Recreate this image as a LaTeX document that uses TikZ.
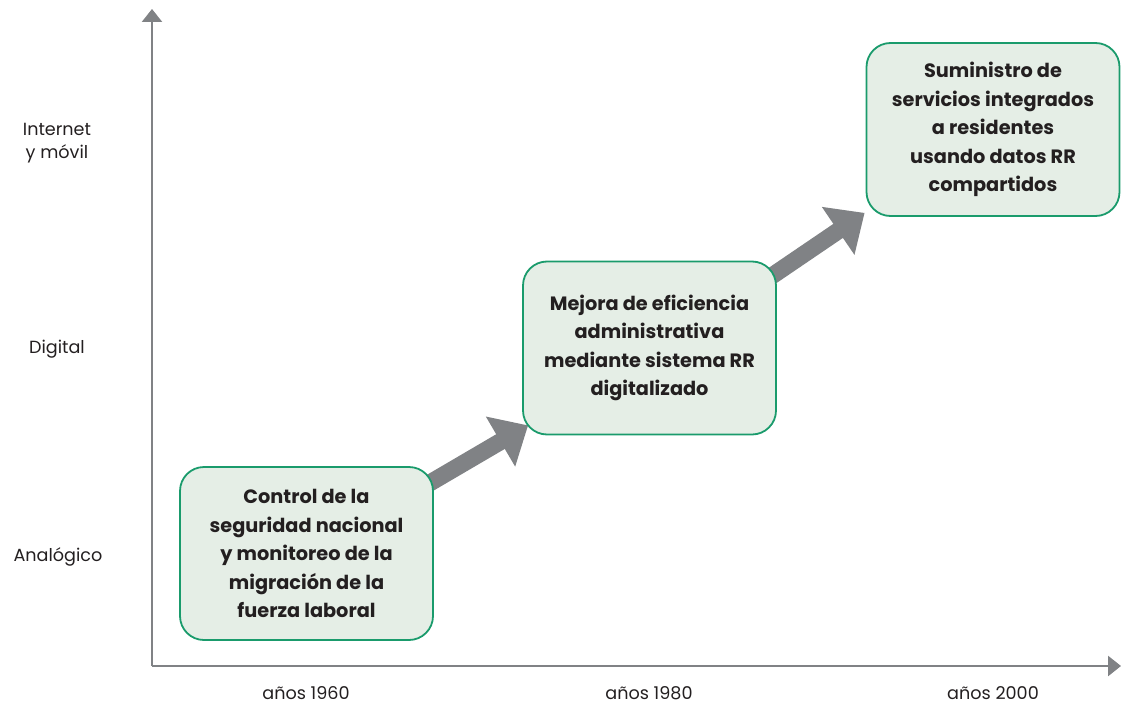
\documentclass[tikz,border=0pt]{standalone}
\usepackage{fontspec}
\setmainfont{Poppins}
\usetikzlibrary{arrows.meta}
\pgfdeclarelayer{bg}
\pgfsetlayers{bg,main}
\definecolor{axisgray}{HTML}{808285}
\definecolor{boxfill}{HTML}{E5EEE6}
\definecolor{boxline}{HTML}{1A9B6C}
\definecolor{txt}{HTML}{231F20}
\tikzset{
  axisline/.style={draw=axisgray, line width=2.6pt, -{Triangle[width=20pt,length=13pt]}},
  bigarrow/.style={draw=axisgray, line width=17pt, -{Triangle[width=56pt,length=32pt]}},
  stagebox/.style={draw=boxline, fill=boxfill, line width=1.8pt, rounded corners=24pt,
    minimum width=253pt, minimum height=173pt, inner sep=0pt, align=center,
    font=\fontsize{19.3}{28.5}\selectfont\bfseries, text=txt},
  axlabel/.style={font=\fontsize{17.6}{23}\selectfont, text=txt, align=center, inner sep=0pt}
}
\begin{document}
\begin{tikzpicture}[x=1pt,y=-1pt]
\useasboundingbox (0,0) rectangle (1126,706);
\coordinate (o) at (152,666);
\coordinate (ytop) at (152,9);
\coordinate (xend) at (1121,666);
\draw[axisline] (o) -- (ytop);
\draw[axisline] (o) -- (xend);

\node[axlabel] (l1) at (57,143) {Internet\\y móvil};
\node[axlabel] (l2) at (57,349) {Digital};
\node[axlabel] (l3) at (58,557) {Analógico};
\node[axlabel] (t1) at (306,693) {años 1960};
\node[axlabel] (t2) at (649,693) {años 1980};
\node[axlabel] (t3) at (993,693) {años 2000};

\node[stagebox] (b1) at (306.5,553.5) {Control de la\\seguridad nacional\\y monitoreo de la\\migración de la\\fuerza laboral};
\node[stagebox] (b2) at (649.5,348) {Mejora de eficiencia\\administrativa\\mediante sistema RR\\digitalizado};
\node[stagebox] (b3) at (993,129.5) {Suministro de\\servicios integrados\\a residentes\\usando datos RR\\compartidos};

\begin{pgfonlayer}{bg}
\draw[bigarrow] ([shift={(-6,18)}]b1.north east) -- ([shift={(6,-10)}]b2.south west);
\draw[bigarrow] ([shift={(-6,16)}]b2.north east) -- ([shift={(-1,-4)}]b3.south west);
\end{pgfonlayer}
\end{tikzpicture}
\end{document}
